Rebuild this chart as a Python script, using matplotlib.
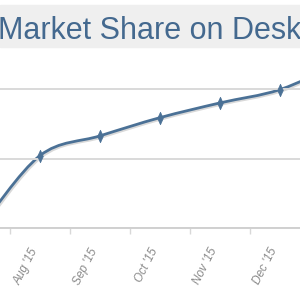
import numpy as np
import matplotlib
matplotlib.use("Agg")
import matplotlib.pyplot as plt
from matplotlib.path import Path
from matplotlib.patches import PathPatch, Rectangle
import matplotlib.patheffects as pe

months = ["Jul '15", "Aug '15", "Sep '15", "Oct '15", "Nov '15", "Dec '15", "Jan '16"]
share = [0.0, 5.21, 6.63, 7.94, 9.00, 9.96, 11.85]   # % desktop share
title = "Market Share on Desktop"

line_col = "#4b7196"
grid_col = "#d9d9d9"

x = np.arange(len(share))
pts = np.column_stack([x, np.array(share)])

# smoothed line like excel (bezier through the points)
ext = np.vstack([pts[0], pts, pts[-1]])
verts = [tuple(pts[0])]
codes = [Path.MOVETO]
for i in range(len(pts) - 1):
    p0, p1, p2, p3 = ext[i], ext[i + 1], ext[i + 2], ext[i + 3]
    c1 = p1 + (p2 - p0) / 6
    c2 = p2 - (p3 - p1) / 6
    verts += [tuple(c1), tuple(c2), tuple(p2)]
    codes += [Path.CURVE4] * 3

fig = plt.figure(figsize=(3, 3), dpi=100)
fig.patches.append(Rectangle((0, 0.843), 1, 0.14, transform=fig.transFigure,
                             color="#efefef", zorder=0))
fig.text(-0.007, 0.87, title, fontsize=22, color="#44698f",
         family="Liberation Sans", va="baseline", ha="left")

ax = fig.add_axes([0, 0.24, 1, 0.6])
ax.patch.set_alpha(0)

ax.set_yticks([0, 5, 10])
ax.yaxis.grid(True, color=grid_col, lw=1.4)
ax.tick_params(axis="y", left=False, labelleft=False)
for s in ["top", "left", "right"]:
    ax.spines[s].set_visible(False)
ax.spines["bottom"].set_color("#d0d0d0")
ax.spines["bottom"].set_linewidth(1.4)

ax.set_xticks(x)
ax.set_xticklabels(months, rotation=63, ha="right", va="top", fontsize=8.5,
                   style="italic", color="#8a8a8a", family="Liberation Sans")
ax.tick_params(axis="x", which="major", length=0, pad=13)
ax.set_xticks(x[:-1] + 0.5, minor=True)
ax.tick_params(axis="x", which="minor", length=4, color="#d8d8d8", width=1)

curve = PathPatch(Path(verts, codes), fill=False, edgecolor=line_col, lw=2.0,
                  path_effects=[pe.SimpleLineShadow(offset=(1, -1), alpha=0.15), pe.Normal()])
ax.add_patch(curve)

marker = Path([(0, 1), (0.45, 0), (0, -1), (-0.45, 0), (0, 1)],
              [Path.MOVETO, Path.LINETO, Path.LINETO, Path.LINETO, Path.CLOSEPOLY])
ax.plot(x, share, linestyle="none", marker=marker, markersize=9,
        color=line_col, markeredgewidth=0.5)

# limits last, set_xticks would widen them
ax.set_xlim(1 / 3, 16 / 3)
ax.set_ylim(0, 12.95)

fig.savefig("out.png", dpi=100)
